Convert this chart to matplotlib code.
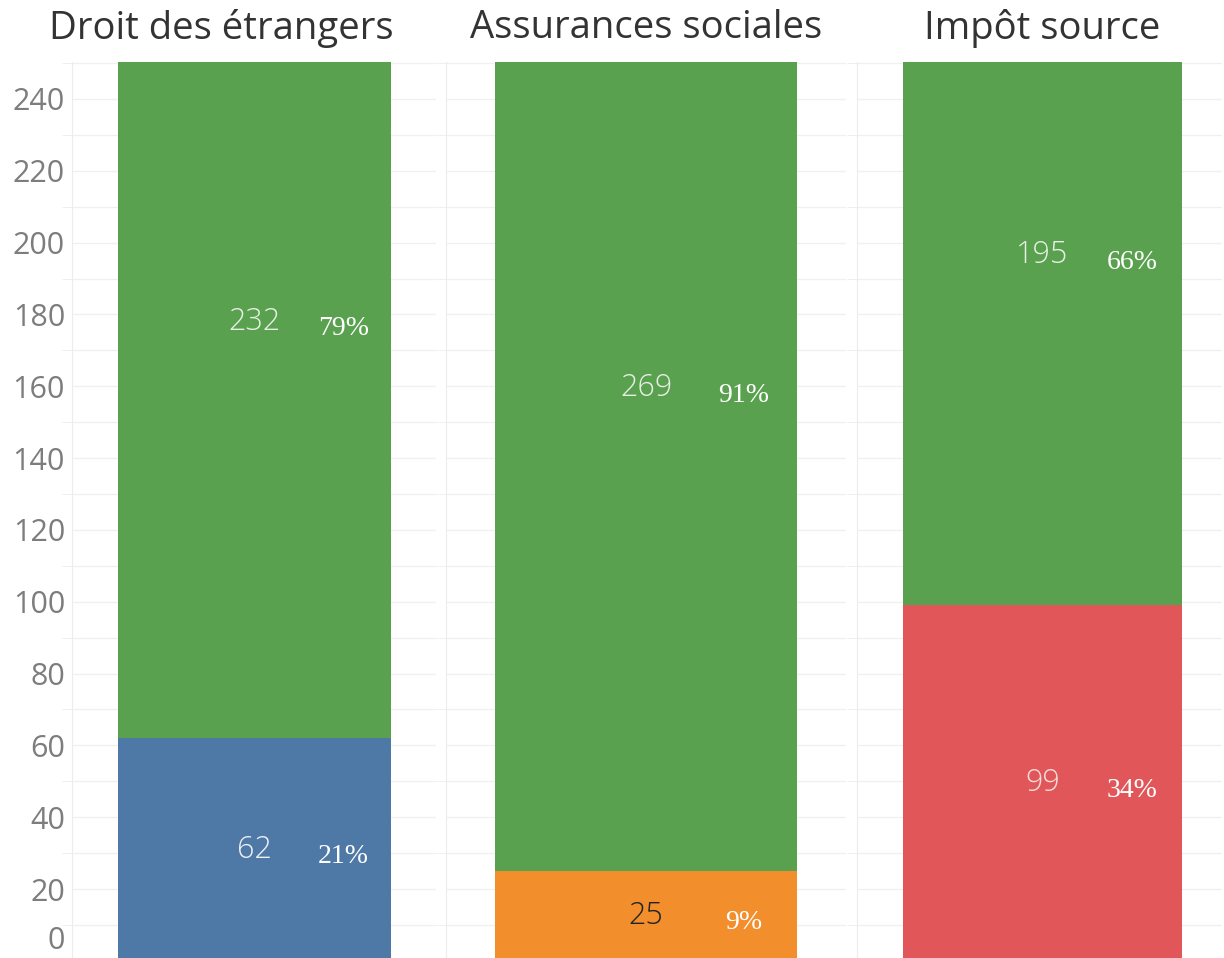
import numpy as np
import matplotlib
matplotlib.use('Agg')
import matplotlib.pyplot as plt
from matplotlib.ticker import MultipleLocator
import matplotlib.transforms as mtransforms

# Data
categories = ['Droit des étrangers', 'Assurances sociales', 'Impôt source']
bottom_counts = [62, 25, 99]
top_counts = [232, 269, 195]
bottom_pcts = ['21%', '9%', '34%']
top_pcts = ['79%', '91%', '66%']
bottom_colors = ['#4e79a7', '#f28e2b', '#e15759']
top_color = '#59a14f'
bottom_label_colors = ['#eef0f5', '#222222', '#f6dede']
top_label_color = '#e8efe6'

fig = plt.figure(figsize=(12.24, 9.58), dpi=100)
W, H = 1224, 958

# panel extents in pixels (left, right)
panels = [(72, 436), (446, 846), (857, 1222)]
bar_x = [0, 0, 0.008]
bar_widths = [0.75, 0.755, 0.765]
top_px = 62

axes = []
for i, (x0, x1) in enumerate(panels):
    ax = fig.add_axes([x0 / W, 0, (x1 - x0) / W, (H - top_px) / H])
    axes.append(ax)

    ax.bar(bar_x[i], bottom_counts[i], width=bar_widths[i], color=bottom_colors[i], zorder=3)
    ax.bar(bar_x[i], top_counts[i], bottom=bottom_counts[i], width=bar_widths[i],
           color=top_color, zorder=3)

    ax.set_xlim(-0.5, 0.5)
    ax.set_ylim(0.8, 250.3)
    ax.set_xticks([])
    ax.yaxis.set_major_locator(MultipleLocator(20))
    ax.yaxis.set_minor_locator(MultipleLocator(10))
    ax.grid(axis='y', which='both', color='#f0f0f0', lw=1, zorder=0)
    for s in ['top', 'right', 'bottom']:
        ax.spines[s].set_visible(False)
    ax.spines['left'].set_color('#ececec')
    ax.tick_params(axis='y', which='major', length=0)
    ax.tick_params(axis='y', which='minor', length=7, color='#ececec')

    # labels at segment mid-points
    b_mid = bottom_counts[i] / 2
    t_mid = bottom_counts[i] + top_counts[i] / 2
    cx = bar_x[i]
    pct_off = -5  # points, serif labels sit a bit lower
    ax.text(cx, b_mid, str(bottom_counts[i]), ha='center', va='center', fontsize=22,
            family='Open Sans', weight='light', color=bottom_label_colors[i], zorder=4)
    ax.text(cx, t_mid, str(top_counts[i]), ha='center', va='center', fontsize=22,
            family='Open Sans', weight='light', color=top_label_color, zorder=4)
    off = mtransforms.offset_copy(ax.transData, fig=fig, x=0, y=pct_off, units='points')
    ax.text(cx + 0.245, b_mid, bottom_pcts[i], ha='center', va='center', transform=off,
            fontsize=20, family='Liberation Serif', color='white', zorder=4)
    ax.text(cx + 0.245, t_mid, top_pcts[i], ha='center', va='center', transform=off,
            fontsize=20, family='Liberation Serif', color='white', zorder=4)

    if i == 0:
        ax.set_yticks(np.arange(20, 241, 20))
        ax.tick_params(axis='y', which='major', labelsize=22, labelcolor='#7d7d7d', pad=5)
        for lab in ax.get_yticklabels():
            lab.set_family('Open Sans')
        # zero label pushed up into view
        zoff = mtransforms.offset_copy(ax.get_yaxis_transform(), fig=fig, x=-5, y=14, units='points')
        ax.text(0, 0, '0', ha='right', va='center', transform=zoff, fontsize=22,
                family='Open Sans', color='#7d7d7d', clip_on=False)
    else:
        ax.tick_params(axis='y', which='major', labelleft=False)

# column headers
title_x = [221, 646, 1042]
for i, cat in enumerate(categories):
    fig.text(title_x[i] / W, 1 - 28 / H, cat, ha='center', va='center',
             fontsize=27.5, family='Open Sans', color='#333333')

fig.savefig('out.png', dpi=100)
